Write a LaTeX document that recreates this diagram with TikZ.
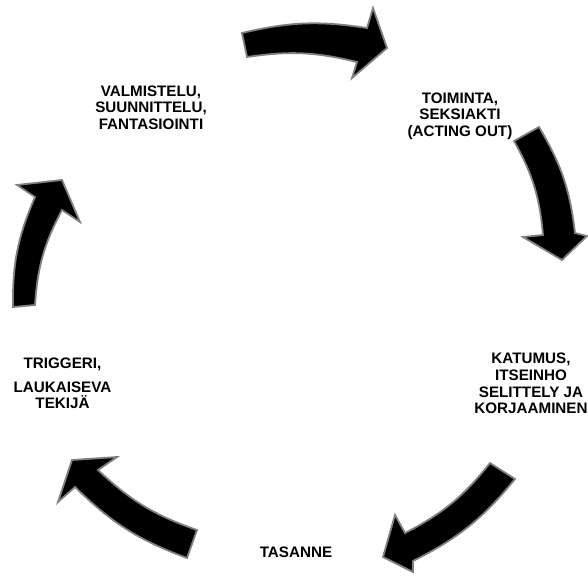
\documentclass[tikz,border=0pt]{standalone}
\usepackage{fontspec}
\setmainfont{Liberation Sans}
\definecolor{arrgray}{RGB}{128,128,128}
\begin{document}
\begin{tikzpicture}[x=1pt,y=1pt,
  cyc/.style={fill=black, draw=arrgray, line width=1.8pt, line join=miter},
  lbl/.style={font=\bfseries\fontsize{15.2}{16.6}\selectfont, align=center, inner sep=0pt}]
\useasboundingbox (0,0) rectangle (588,-580);
% arrow 1 (top)
\draw[cyc] (242,-33) to[bend left=11] (367,-28) -- (373,-8) -- (387,-48) -- (352,-78) -- (357,-62) to[bend right=11] (247,-57) -- cycle;
% arrow 2 (right)
\draw[cyc] (539,-127) to[bend left=12] (575,-233) -- (587,-236) -- (562,-260) -- (523,-237) -- (543,-235) to[bend right=12] (514,-141) -- cycle;
% arrow 3 (bottom right)
\draw[cyc] (515,-479) to[bend left=12] (413,-561) -- (413,-572) -- (383,-557) -- (395,-515) -- (405,-533) to[bend right=12] (490,-463) -- cycle;
% arrow 4 (bottom left)
\draw[cyc] (187,-558) to[bend left=12] (75,-487) -- (58,-502) -- (72,-460) -- (117,-457) -- (98,-470) to[bend right=12] (197,-530) -- cycle;
% arrow 5 (left)
\draw[cyc] (13,-307) to[bend left=12] (35,-197) -- (17,-185) -- (62,-180) -- (80,-222) -- (62,-210) to[bend right=12] (35,-305) -- cycle;
% labels
\node[lbl] (valm) at (151,-107.4) {VALMISTELU,\\SUUNNITTELU,\\FANTASIOINTI};
\node[lbl] (toim) at (460,-116) {TOIMINTA,\\SEKSIAKTI\\(ACTING OUT)};
\node[lbl] (katu) at (531,-383.5) {KATUMUS,\\ITSEINHO\\SELITTELY JA\\KORJAAMINEN};
\node[lbl] (tasa) at (296,-552) {TASANNE};
\node[lbl] (trig) at (62.5,-383.5) {TRIGGERI,\\[7pt]LAUKAISEVA\\TEKIJÄ};
\end{tikzpicture}
\end{document}
